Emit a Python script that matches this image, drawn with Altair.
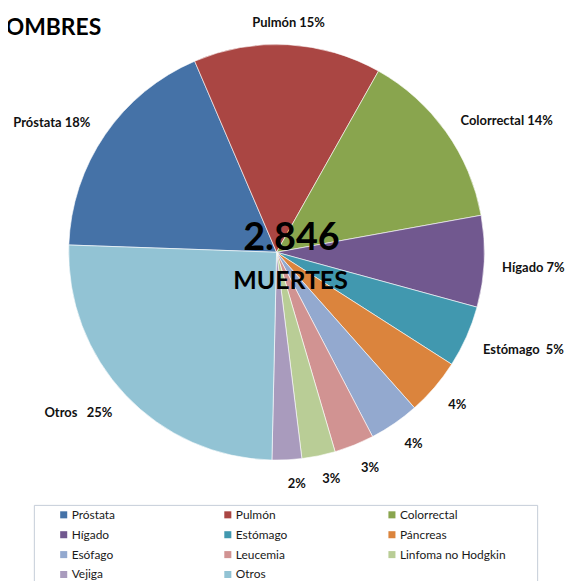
import math
import numpy as np
import pandas as pd
import altair as alt

titulo = "HOMBRES"
total_muertes = "2.846"
subtitulo = "MUERTES"

categorias = ["Próstata", "Pulmón", "Colorrectal", "Hígado", "Estómago", "Páncreas",
              "Esófago", "Leucemia", "Linfoma no Hodgkin", "Vejiga", "Otros"]
porcentajes = [18.0, 14.6, 14.0, 7.1, 4.8, 4.4, 3.9, 3.1, 2.6, 2.3, 25.2]
etiquetas = ["Próstata 18%", "Pulmón 15%", "Colorrectal 14%", "Hígado 7%",
             "Estómago\u00a0 5%", "4%", "4%", "3%", "3%", "2%", "Otros\u00a0\u00a0 25%"]
colores = ["#4572A7", "#AA4643", "#89A54E", "#71588F", "#4198AF", "#DB843D",
           "#93A9CF", "#D19392", "#B9CD96", "#A99BBD", "#92C3D4"]

START_DEG = 272.0
a0 = math.radians(START_DEG)

df = pd.DataFrame({"cat": categorias, "val": porcentajes, "label": etiquetas})
df["end"] = df["val"].cumsum()
df["start"] = df["end"] - df["val"]
df["mid"] = (df["start"] + df["end"]) / 2
ang = (START_DEG + df["mid"] * 3.6) % 360
upper = (ang < 90) | (ang > 270)
df["side"] = np.where(
    (ang < 20) | (ang > 340), "top",
    np.where(ang < 182,
             np.where(upper, "right_up", "right_low"),
             np.where(upper, "left_up", "left_low")))

tscale = alt.Scale(domain=[0, 100], range=[a0, a0 + 2 * math.pi])
FONT = "Lato"

base = alt.Chart(df)

pie = base.mark_arc(outerRadius=209, stroke="white", strokeWidth=0.6).encode(
    theta=alt.Theta("start:Q", scale=tscale),
    theta2="end:Q",
    color=alt.Color(
        "cat:N",
        scale=alt.Scale(domain=categorias, range=colores),
        legend=alt.Legend(
            title=".", titleOrient="right", titlePadding=26, titleFontSize=6,
            titleOpacity=0,
            orient="none", legendX=26, legendY=498, columns=3, direction="horizontal",
            symbolType="square", symbolSize=50, symbolStrokeWidth=0,
            labelFont=FONT, labelFontSize=12, labelColor="#1a1a1a",
            strokeColor="#c5cdd8", padding=4, gridAlign="all",
            columnPadding=24, rowPadding=8, symbolOffset=20, labelOffset=2,
            labelLimit=300,
        ),
    ),
    order=alt.Order("start:Q"),
)

def lab(side, align, baseline, radius, dy):
    return base.mark_text(
        radius=radius, align=align, baseline=baseline, font=FONT, dy=dy,
        fontWeight="bold", fontSize=13, color="#111111",
    ).encode(
        theta=alt.Theta("mid:Q", scale=tscale),
        text="label:N",
    ).transform_filter(alt.datum.side == side)

label_layers = [
    lab("right_up", "left", "middle", 227, 0),
    lab("right_low", "left", "middle", 227, 6),
    lab("left_up", "right", "middle", 227, -2),
    lab("left_low", "right", "middle", 227, 6),
    lab("top", "center", "bottom", 224, 0),
]

center = alt.Chart(pd.DataFrame({"t": [total_muertes]})).mark_text(
    font=FONT, fontWeight="bold", fontSize=38, color="#000000", baseline="middle"
).encode(text="t:N", x=alt.value(285), y=alt.value(231))

center2 = alt.Chart(pd.DataFrame({"t": [subtitulo]})).mark_text(
    font=FONT, fontWeight="bold", fontSize=25, color="#000000", baseline="middle"
).encode(text="t:N", x=alt.value(284), y=alt.value(273))

title = alt.Chart(pd.DataFrame({"t": [titulo]})).mark_text(
    font=FONT, fontWeight="bold", fontSize=23, color="#000000",
    align="left", baseline="alphabetic", clip=True,
).encode(text="t:N", x=alt.value(-20), y=alt.value(26))

chart = alt.layer(pie, *label_layers, center, center2, title).properties(
    width=540, height=488, padding=0,
).configure_view(stroke=None)

chart.save("out.html", embed_options={"renderer": "svg", "actions": False})
